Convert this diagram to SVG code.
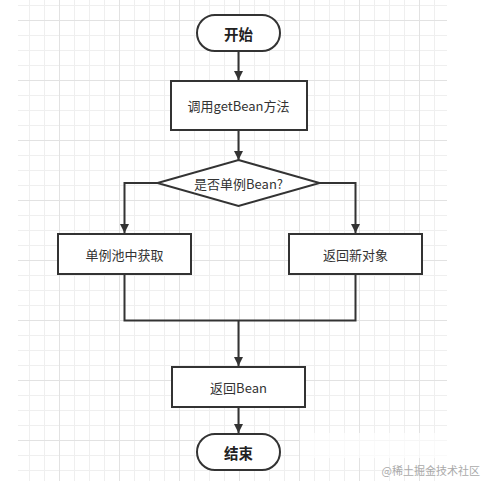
<svg xmlns="http://www.w3.org/2000/svg" width="483" height="481" viewBox="0 0 483 481">
<defs>
<pattern id="gmin" patternUnits="userSpaceOnUse" x="14" y="5" width="15" height="15"><path d="M0.5 0V15M0 0.5H15" stroke="#efefef" stroke-width="1" fill="none"/></pattern>
<pattern id="gmaj" patternUnits="userSpaceOnUse" x="59" y="20" width="60" height="60"><path d="M0.5 0V60M0 0.5H60" stroke="#e2e2e2" stroke-width="1" fill="none"/></pattern>
<marker id="arr" viewBox="0 0 10 10" refX="10" refY="5" markerWidth="4.5" markerHeight="5" markerUnits="strokeWidth" orient="auto"><path d="M0 0L10 5L0 10Z" fill="#333"/></marker>
<style>
.shape{fill:#fff;stroke:#333;stroke-width:2}
.conn{fill:none;stroke:#333;stroke-width:2}
.t{font-family:"Noto Sans CJK SC","Microsoft YaHei",sans-serif;font-size:13px;fill:#333;text-anchor:middle;dominant-baseline:central}
.b{font-size:14.5px;font-weight:bold;fill:#222}
</style>
</defs>
<rect x="0" y="0" width="483" height="481" fill="#fff"/>
<rect x="18" y="0" width="429" height="481" fill="url(#gmin)"/>
<rect x="18" y="0" width="429" height="481" fill="url(#gmaj)"/>
<g id="connectors">
<path class="conn" d="M238.5 51V80" marker-end="url(#arr)"/>
<path class="conn" d="M238.5 130V160" marker-end="url(#arr)"/>
<path class="conn" d="M157.5 183H124.5V233" marker-end="url(#arr)"/>
<path class="conn" d="M319.5 183H355.5V233" marker-end="url(#arr)"/>
<path class="conn" d="M124.5 274V320.5H355.5V274"/>
<path class="conn" d="M238.5 320.5V366" marker-end="url(#arr)"/>
<path class="conn" d="M238.5 407V433" marker-end="url(#arr)"/>
</g>
<g id="start"><rect class="shape" x="197" y="15" width="83" height="36" rx="18"/><text class="t b" x="238.5" y="33">开始</text></g>
<g id="getbean"><rect class="shape" x="171" y="81" width="136" height="49"/><text class="t" x="238.5" y="105.5">调用getBean方法</text></g>
<g id="decision"><path class="shape" d="M238.5 160L319.5 183L238.5 206L157.5 183Z"/><text class="t" x="238.5" y="183">是否单例Bean?</text></g>
<g id="pool"><rect class="shape" x="58" y="234" width="133" height="40"/><text class="t" x="124.5" y="254">单例池中获取</text></g>
<g id="newobj"><rect class="shape" x="289" y="234" width="133" height="40"/><text class="t" x="355.5" y="254">返回新对象</text></g>
<g id="retbean"><rect class="shape" x="172" y="367" width="133" height="40"/><text class="t" x="238.5" y="387">返回Bean</text></g>
<g id="end"><rect class="shape" x="197" y="434" width="83" height="36" rx="18"/><text class="t b" x="238.5" y="452">结束</text></g>
<rect x="300" y="433" width="147" height="25" fill="#fff" opacity="0.7"/>
<text x="480" y="475" font-family="Noto Sans CJK SC, sans-serif" font-size="11" fill="#aaa" text-anchor="end">@稀土掘金技术社区</text>
</svg>
